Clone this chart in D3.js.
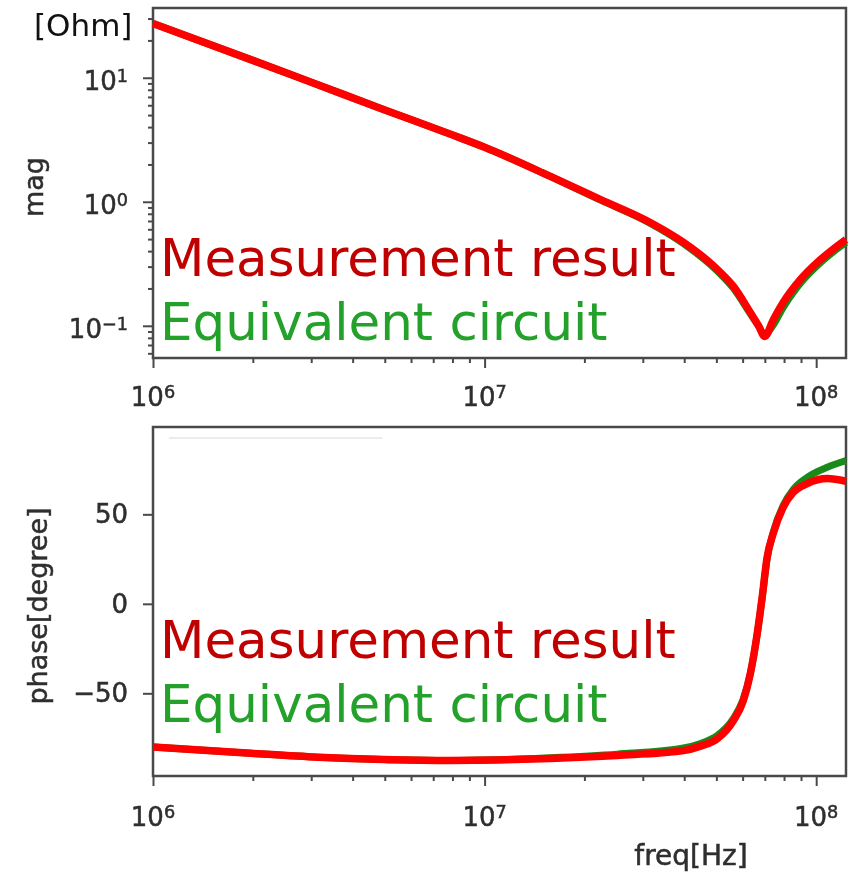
<!DOCTYPE html>
<html>
<head>
<meta charset="utf-8">
<script src="https://cdn.jsdelivr.net/npm/d3@7"></script>
<style>
  body { margin: 0; background: #fff; }
  svg { display: block; }
  text { font-family: "DejaVu Sans", sans-serif; }
</style>
</head>
<body>
<script>
// magnitude panel (Hz / Ohm)
var freqMag = [1e6, 2e6, 3e6, 5e6, 7.9e6, 1e7, 1.58e7, 2.24e7, 3.16e7, 3.98e7, 5.04e7, 5.63e7, 6.33e7, 6.7e7, 7.0e7, 7.4e7, 7.95e7, 8.96e7, 1.007e8, 1.12e8, 1.23e8];
var magMeasured = [27.4, 13.8, 9.2, 5.5, 3.5, 2.75, 1.6, 1.04, 0.68, 0.47, 0.284, 0.208, 0.128, 0.1, 0.082, 0.11, 0.154, 0.236, 0.324, 0.41, 0.495];
var magEquivalent = [27.4, 13.8, 9.2, 5.5, 3.5, 2.75, 1.6, 1.03, 0.67, 0.46, 0.275, 0.2, 0.125, 0.1, 0.085, 0.1, 0.14, 0.22, 0.305, 0.39, 0.47];

// phase panel (Hz / degree)
var freqPhase = [1e6, 1.97e6, 3.14e6, 4.96e6, 7.9e6, 1.58e7, 2.51e7, 3.98e7, 4.48e7, 5.04e7, 5.63e7, 6.03e7, 6.33e7, 6.64e7, 6.87e7, 7.11e7, 7.42e7, 7.95e7, 8.53e7, 9.4e7, 1.08e8, 1.23e8];
var phaseMeasured = [-80, -83.5, -85.7, -87, -87.5, -86.4, -84.7, -82, -79.5, -75.3, -65.2, -54, -39, -16.6, 3.5, 25.9, 39.3, 53.9, 62.3, 67.2, 70, 68.5];
var phaseEquivalent = [-80, -83.5, -85.7, -87, -87.5, -86, -84, -80.5, -78, -73.5, -64, -53, -39, -17, 3, 25, 40, 55, 64, 70.7, 76.3, 80];

var xTickExps = [6, 7, 8];
var magTickExps = [-1, 0, 1];
var phaseTicks = [-50, 0, 50];
var legendLabels = ["Measurement result", "Equivalent circuit"];

var svg = d3.select("body").append("svg")
    .attr("width", 849)
    .attr("height", 876);

svg.append("defs").append("filter").attr("id", "soft")
    .append("feGaussianBlur").attr("stdDeviation", 0.7);

var left = 153, right = 846;
var x = d3.scaleLog().domain([1e6, 1.23e8]).range([left, right]);
var yMag = d3.scaleLog().domain([0.055, 36.5]).range([358, 8]);
var yPh = d3.scaleLinear().domain([-96.2, 98.8]).range([776, 427]);

var axisColor = "#4a4a4a";
var labelColor = "#2e2e2e";

function sup(sel, base, exp) {
    sel.text(null);
    sel.append("tspan").text(base);
    sel.append("tspan").attr("dy", "-0.45em").attr("font-size", "0.68em").text(exp);
}
function expText(e) { return e < 0 ? "\u2212" + (-e) : String(e); }

// blurry matplotlib-like labels: a touch of stroke for weight
function labelStyle(t, size) {
    t.attr("font-size", size)
        .attr("fill", labelColor)
        .attr("stroke", labelColor)
        .attr("stroke-width", 0.5);
}

function xAxis(g, bottom, labelY) {
    var majors = xTickExps.map(function (e) { return Math.pow(10, e); });
    var minors = x.ticks().filter(function (v) { return majors.indexOf(v) < 0; });
    g.append("g").attr("transform", "translate(0," + bottom + ")")
        .call(d3.axisBottom(x).tickValues(minors).tickSize(5).tickSizeOuter(0).tickFormat(""))
        .call(function (a) { a.select(".domain").remove(); a.selectAll("line").attr("stroke", axisColor).attr("stroke-width", 2); });
    g.append("g").attr("transform", "translate(0," + bottom + ")")
        .call(d3.axisBottom(x).tickValues(majors).tickSize(10).tickSizeOuter(0).tickFormat(""))
        .call(function (a) { a.select(".domain").remove(); a.selectAll("line").attr("stroke", axisColor).attr("stroke-width", 2); });
    g.selectAll(".xlab" + bottom).data(xTickExps).enter().append("text")
        .attr("x", function (e) { return x(Math.pow(10, e)); })
        .attr("y", labelY)
        .attr("text-anchor", "middle")
        .call(labelStyle, 26)
        .each(function (e) { sup(d3.select(this), "10", expText(e)); });
}

function frame(g, top, bottom) {
    g.append("rect")
        .attr("x", left).attr("y", top)
        .attr("width", right - left).attr("height", bottom - top)
        .attr("fill", "none").attr("stroke", axisColor).attr("stroke-width", 2.5);
}

var line = function (xs, ys, yScale) {
    return d3.line()
        .x(function (d, i) { return x(xs[i]); })
        .y(function (d) { return yScale(d); })
        .curve(d3.curveMonotoneX)(ys);
};

function legend(top1, top2) {
    svg.append("text").attr("x", 160).attr("y", top1)
        .attr("font-size", 51.5).attr("fill", "#c00000").text(legendLabels[0]);
    svg.append("text").attr("x", 160).attr("y", top2)
        .attr("font-size", 51.5).attr("fill", "#24a12a").text(legendLabels[1]);
}

// ---- top panel: magnitude
var axTop = svg.append("g").attr("filter", "url(#soft)");
var magMajors = magTickExps.map(function (e) { return Math.pow(10, e); });
var magMinors = yMag.ticks().filter(function (v) { return magMajors.indexOf(v) < 0; });
axTop.append("g").attr("transform", "translate(" + left + ",0)")
    .call(d3.axisLeft(yMag).tickValues(magMinors).tickSize(5).tickSizeOuter(0).tickFormat(""))
    .call(function (a) { a.select(".domain").remove(); a.selectAll("line").attr("stroke", axisColor).attr("stroke-width", 2); });
axTop.append("g").attr("transform", "translate(" + left + ",0)")
    .call(d3.axisLeft(yMag).tickValues(magMajors).tickSize(10).tickSizeOuter(0).tickFormat(""))
    .call(function (a) { a.select(".domain").remove(); a.selectAll("line").attr("stroke", axisColor).attr("stroke-width", 2); });
axTop.selectAll(".ylab").data(magTickExps).enter().append("text")
    .attr("x", 128)
    .attr("y", function (e) { return yMag(Math.pow(10, e)) + 12; })
    .attr("text-anchor", "end")
    .call(labelStyle, 26)
    .each(function (e) { sup(d3.select(this), "10", expText(e)); });
xAxis(axTop, 358, 406);
axTop.append("text")
    .attr("transform", "translate(43,187) rotate(-90)")
    .attr("text-anchor", "middle")
    .call(labelStyle, 27)
    .text("mag");
frame(axTop, 8, 358);

legend(276, 340);

svg.append("path").attr("d", line(freqMag, magEquivalent, yMag))
    .attr("fill", "none").attr("stroke", "#1a8a1a").attr("stroke-width", 7);
svg.append("path").attr("d", line(freqMag, magMeasured, yMag))
    .attr("fill", "none").attr("stroke", "#ff0000").attr("stroke-width", 7.5);

svg.append("text").attr("x", 34).attr("y", 36)
    .attr("font-size", 31).attr("fill", "#111").text("[Ohm]");

// ---- bottom panel: phase
var axBot = svg.append("g").attr("filter", "url(#soft)");
axBot.append("g").attr("transform", "translate(" + left + ",0)")
    .call(d3.axisLeft(yPh).tickValues(phaseTicks).tickSize(10).tickSizeOuter(0).tickFormat(""))
    .call(function (a) { a.select(".domain").remove(); a.selectAll("line").attr("stroke", axisColor).attr("stroke-width", 2); });
axBot.selectAll(".plab").data(phaseTicks).enter().append("text")
    .attr("x", 128)
    .attr("y", function (v) { return yPh(v) + 9; })
    .attr("text-anchor", "end")
    .call(labelStyle, 26)
    .text(function (v) { return v < 0 ? "\u2212" + (-v) : String(v); });
xAxis(axBot, 776, 826);
axBot.append("text")
    .attr("transform", "translate(47,606) rotate(-90)")
    .attr("text-anchor", "middle")
    .call(labelStyle, 27)
    .text("phase[degree]");
axBot.append("text")
    .attr("x", 691).attr("y", 865)
    .attr("text-anchor", "middle")
    .call(labelStyle, 28)
    .text("freq[Hz]");
axBot.append("line")
    .attr("x1", 169).attr("x2", 382).attr("y1", 438).attr("y2", 438)
    .attr("stroke", "#ececec").attr("stroke-width", 2);
frame(axBot, 427, 776);

legend(658, 722);

svg.append("path").attr("d", line(freqPhase, phaseEquivalent, yPh))
    .attr("fill", "none").attr("stroke", "#1a8a1a").attr("stroke-width", 7);
svg.append("path").attr("d", line(freqPhase, phaseMeasured, yPh))
    .attr("fill", "none").attr("stroke", "#ff0000").attr("stroke-width", 7.5);
</script>
</body>
</html>
